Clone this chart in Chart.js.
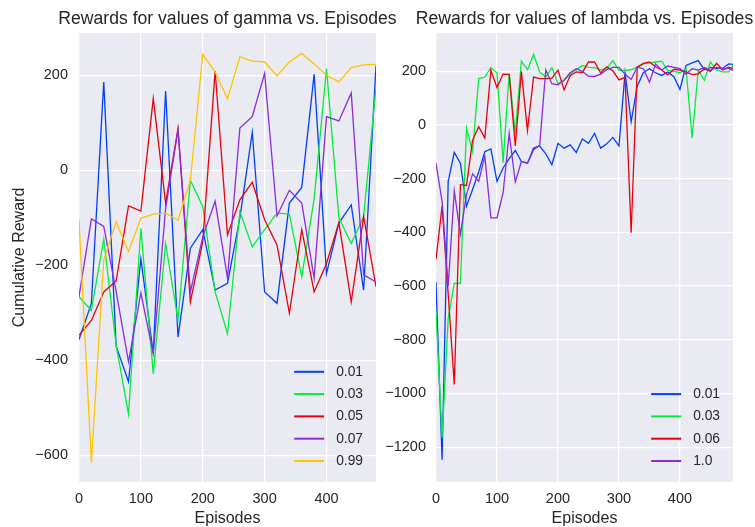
<!DOCTYPE html>
<html>
<head>
<meta charset="utf-8">
<script src="https://cdn.jsdelivr.net/npm/chart.js"></script>
<style>
  html, body { margin: 0; padding: 0; background: #fff; }
  #wrap { position: relative; width: 755px; height: 527px; }
  #wrap canvas { position: absolute; left: 0; top: 0; }
</style>
</head>
<body>
<div id="wrap">
  <canvas id="gammaChart" width="755" height="527"></canvas>
  <canvas id="lambdaChart" width="755" height="527"></canvas>
</div>
<script>
// ---- data: gamma sweep (left) ----
const gammaEpisodes = [0, 20, 40, 60, 80, 100, 120, 140, 160, 180, 200, 220, 240, 260, 280, 300, 320, 340, 360, 380, 400, 420, 440, 460, 480];
const gammaLabels = ['0.01', '0.03', '0.05', '0.07', '0.99'];
const gamma001 = [-356, -280, 186, -370, -445, -186, -385, 167, -351, -164, -125, -252, -238, -100, 80, -256, -280, -69, -36, 202, -217, -111, -73, -252, 220];
const gamma003 = [-266, -295, -145, -368, -513, -122, -428, -154, -315, -21, -76, -256, -344, -87, -161, -125, -90, -92, -224, -60, 214, -100, -154, -97, 174];
const gamma005 = [-347, -316, -256, -233, -75, -86, 151, -69, 88, -277, -150, 209, -136, -62, -25, -104, -157, -301, -125, -256, -196, -110, -277, -97, -245];
const gamma007 = [-266, -102, -118, -255, -403, -258, -386, -80, 85, -256, -140, -65, -227, 89, 113, 204, -96, -42, -69, -227, 113, 104, 163, -220, -235];
const gamma099 = [-105, -615, -189, -108, -171, -101, -92, -90, -105, -21, 244, 207, 151, 239, 230, 228, 199, 228, 246, 224, 200, 186, 216, 222, 223];
const gammaXTicks = [0, 100, 200, 300, 400];
const gammaYTicks = [-600, -400, -200, 0, 200];

// ---- data: lambda sweep (right) ----
const lambdaEpisodes = [0, 10, 20, 30, 40, 50, 60, 70, 80, 90, 100, 110, 120, 130, 140, 150, 160, 170, 180, 190, 200, 210, 220, 230, 240, 250, 260, 270, 280, 290, 300, 310, 320, 330, 340, 350, 360, 370, 380, 390, 400, 410, 420, 430, 440, 450, 460, 470, 480, 490];
const lambdaLabels = ['0.01', '0.03', '0.06', '1.0'];
const lambda001 = [-586, -1247, -210, -102, -142, -302, -240, -175, -99, -89, -210, -160, -125, -95, -136, -142, -86, -78, -107, -148, -68, -86, -74, -102, -52, -68, -31, -86, -70, -46, -78, 195, 12, 145, 195, 210, 195, 185, 198, 180, 133, 222, 232, 240, 206, 215, 210, 212, 228, 225];
const lambda003 = [-698, -1165, -720, -590, -590, -12, -99, 173, 179, 214, 194, -140, 191, -30, 238, 206, 263, 198, 179, 214, 154, 167, 191, 206, 222, 215, 214, 206, 210, 240, 204, 204, 206, 216, 228, 231, 235, 238, 204, 200, 195, 210, -48, 204, 167, 235, 204, 198, 198, 232];
const lambda006 = [-500, -302, -630, -967, -222, -225, -56, -6, -48, 204, 140, 190, 189, -78, 199, -20, 179, 173, 173, 175, 205, 131, 185, 198, 196, 235, 235, 194, 217, 202, 168, 178, -401, 216, 230, 235, 217, 205, 187, 208, 205, 198, 188, 191, 210, 200, 230, 205, 216, 208];
const lambda10 = [-142, -285, -600, -245, -407, -259, -182, -210, -116, -346, -346, -253, -31, -212, -136, -142, -92, -76, 206, 154, 150, 167, 195, 210, 200, 182, 181, 190, 206, 215, 215, 190, 170, 216, 210, 160, 228, 205, 220, 215, 210, 190, 210, 205, 215, 205, 215, 208, 212, 200];
const lambdaXTicks = [0, 100, 200, 300, 400];
const lambdaYTicks = [-1200, -1000, -800, -600, -400, -200, 0, 200];

// ---- style ----
const palette = ['#003FFF', '#03ED3A', '#E8000B', '#8A2BE2', '#FFC400'];
const FONT = '"Liberation Sans", Arial, sans-serif';
const TEXT = '#262626';

const plotBackground = {
  id: 'plotBackground',
  beforeDraw(chart) {
    const { ctx, chartArea: a } = chart;
    ctx.save();
    ctx.fillStyle = '#EAEAF2';
    ctx.fillRect(a.left, a.top, a.right - a.left, a.bottom - a.top);
    ctx.restore();
  }
};

// title centred over the plot, legend in the lower right corner
const axesDecor = {
  id: 'axesDecor',
  afterDraw(chart, args, opts) {
    const { ctx, chartArea: a } = chart;
    ctx.save();
    ctx.fillStyle = TEXT;
    ctx.textBaseline = 'middle';
    ctx.font = '17.6px ' + FONT;
    ctx.textAlign = 'center';
    ctx.fillText(opts.title, (a.left + a.right) / 2, 19);

    const items = chart.data.datasets;
    ctx.font = '13.8px ' + FONT;
    ctx.textAlign = 'left';
    const textW = Math.max(...items.map(d => ctx.measureText(d.label).width));
    const textX = a.right - 13 - textW;
    const lineEnd = textX - 12;
    const lineStart = lineEnd - 30;
    items.forEach((d, i) => {
      const y = a.bottom - 21 - (items.length - 1 - i) * 22.3;
      ctx.strokeStyle = d.borderColor;
      ctx.lineWidth = 2;
      ctx.beginPath();
      ctx.moveTo(lineStart, y);
      ctx.lineTo(lineEnd, y);
      ctx.stroke();
      ctx.fillText(d.label, textX, y);
    });
    ctx.restore();
  }
};

function tickText(v) {
  return String(v).replace('-', '\u2212');
}

function makeDatasets(xs, labels, series) {
  return series.map((ys, i) => ({
    label: labels[i],
    data: xs.map((x, j) => ({ x: x, y: ys[j] })),
    borderColor: palette[i],
    borderWidth: 1.3,
    pointRadius: 0,
    tension: 0,
    order: series.length - i
  }));
}

function renderChart(canvasId, opts) {
  const ctx = document.getElementById(canvasId).getContext('2d');
  new Chart(ctx, {
    type: 'line',
    data: { datasets: makeDatasets(opts.xs, opts.labels, opts.series) },
    plugins: [plotBackground, axesDecor],
    options: {
      responsive: false,
      animation: false,
      events: [],
      layout: { padding: opts.padding },
      plugins: {
        legend: { display: false },
        title: { display: false },
        tooltip: { enabled: false },
        axesDecor: { title: opts.title }
      },
      scales: {
        x: {
          type: 'linear',
          min: 0,
          max: opts.xMax,
          afterBuildTicks: s => { s.ticks = opts.xTicks.map(v => ({ value: v })); },
          afterFit: s => { s.height = 45; },
          border: { display: false },
          grid: { color: '#ffffff', lineWidth: 1.2, drawTicks: false },
          ticks: { color: TEXT, font: { family: FONT, size: 14.5 }, padding: 8, maxRotation: 0, callback: tickText },
          title: { display: true, text: 'Episodes', color: TEXT, font: { family: FONT, size: 16, lineHeight: 1 }, padding: { top: 0, bottom: 0 } }
        },
        y: {
          type: 'linear',
          min: opts.yMin,
          max: opts.yMax,
          afterBuildTicks: s => { s.ticks = opts.yTicks.map(v => ({ value: v })); },
          afterFit: s => { s.width = opts.yWidth; },
          border: { display: false },
          grid: { color: '#ffffff', lineWidth: 1.2, drawTicks: false },
          ticks: { color: TEXT, font: { family: FONT, size: 14.5 }, padding: opts.yPad, callback: tickText },
          title: {
            display: !!opts.yTitle,
            text: opts.yTitle || '',
            color: TEXT,
            font: { family: FONT, size: 16 },
            padding: { top: 9.5, bottom: 0 }
          }
        }
      }
    }
  });
}

renderChart('gammaChart', {
  title: 'Rewards for values of gamma vs. Episodes',
  xs: gammaEpisodes,
  labels: gammaLabels,
  series: [gamma001, gamma003, gamma005, gamma007, gamma099],
  xMax: 480,
  xTicks: gammaXTicks,
  yMin: -656,
  yMax: 289,
  yTicks: gammaYTicks,
  yWidth: 79,
  yPad: 11,
  yTitle: 'Cumulative Reward',
  padding: { top: 33, right: 379, bottom: 0, left: 0 }
});

renderChart('lambdaChart', {
  title: 'Rewards for values of lambda vs. Episodes',
  xs: lambdaEpisodes,
  labels: lambdaLabels,
  series: [lambda001, lambda003, lambda006, lambda10],
  xMax: 487,
  xTicks: lambdaXTicks,
  yMin: -1330,
  yMax: 343,
  yTicks: lambdaYTicks,
  yWidth: 56,
  yPad: 10,
  yTitle: null,
  padding: { top: 33, right: 22, bottom: 0, left: 380 }
});
</script>
</body>
</html>
